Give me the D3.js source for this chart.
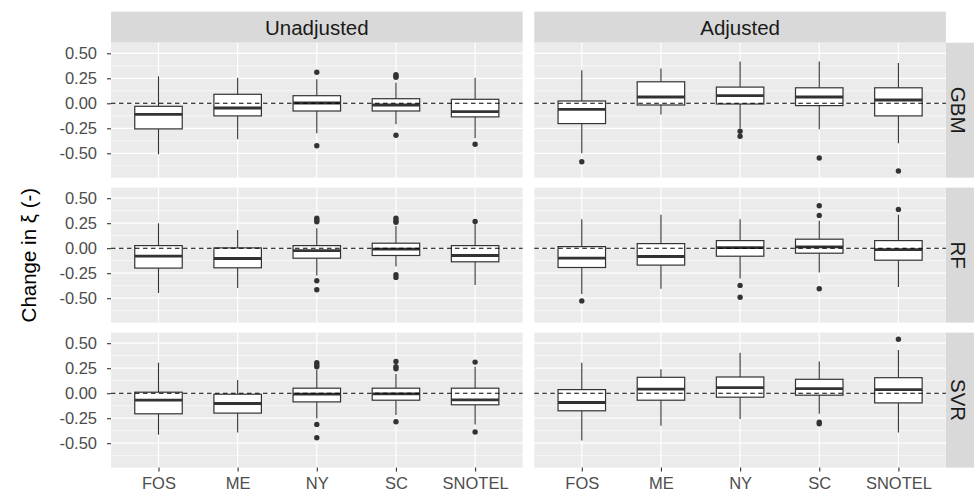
<!DOCTYPE html>
<html>
<head>
<meta charset="utf-8">
<script src="https://cdn.jsdelivr.net/npm/d3@7"></script>
<style>
  html, body { margin: 0; padding: 0; background: #ffffff; }
  svg { display: block; font-family: "Liberation Sans", Arial, Helvetica, sans-serif; }
</style>
</head>
<body>
<svg id="chart" width="974" height="500"></svg>
<script>
// Facet labels and categories
const adjustments = ["Unadjusted", "Adjusted"];
const models = ["GBM", "RF", "SVR"];
const networks = ["FOS", "ME", "NY", "SC", "SNOTEL"];
const yTickValues = [-0.5, -0.25, 0, 0.25, 0.5];
const yTickLabels = ["-0.50", "-0.25", "0.00", "0.25", "0.50"];

// Box summaries per network: [lower whisker, Q1, median, Q3, upper whisker]
const unadjustedGBM = [[-0.51, -0.256, -0.11, -0.03, 0.27], [-0.36, -0.126, -0.047, 0.09, 0.255], [-0.30, -0.077, 0.003, 0.076, 0.24], [-0.21, -0.077, -0.017, 0.046, 0.205], [-0.35, -0.136, -0.083, 0.04, 0.255]];
const adjustedGBM   = [[-0.50, -0.203, -0.06, 0.023, 0.33], [-0.113, -0.017, 0.063, 0.215, 0.348], [-0.25, -0.007, 0.076, 0.162, 0.418], [-0.26, -0.023, 0.063, 0.155, 0.418], [-0.40, -0.126, 0.033, 0.155, 0.404]];
const unadjustedRF  = [[-0.448, -0.199, -0.08, 0.026, 0.249], [-0.398, -0.196, -0.103, 0.003, 0.182], [-0.272, -0.10, -0.024, 0.026, 0.199], [-0.183, -0.073, -0.01, 0.05, 0.222], [-0.368, -0.136, -0.073, 0.026, 0.249]];
const adjustedRF    = [[-0.458, -0.193, -0.10, 0.016, 0.289], [-0.405, -0.169, -0.083, 0.046, 0.334], [-0.302, -0.08, 0.006, 0.076, 0.289], [-0.243, -0.05, 0.013, 0.09, 0.275], [-0.388, -0.12, -0.014, 0.076, 0.334]];
const unadjustedSVR = [[-0.415, -0.206, -0.07, 0.01, 0.305], [-0.392, -0.199, -0.103, -0.01, 0.133], [-0.253, -0.087, -0.01, 0.05, 0.232], [-0.219, -0.07, -0.007, 0.05, 0.192], [-0.312, -0.116, -0.067, 0.05, 0.265]];
const adjustedSVR   = [[-0.474, -0.176, -0.093, 0.036, 0.305], [-0.325, -0.07, 0.04, 0.159, 0.239], [-0.259, -0.04, 0.056, 0.162, 0.404], [-0.206, -0.02, 0.046, 0.139, 0.318], [-0.392, -0.097, 0.036, 0.155, 0.431]];

// Outlying points per network
const unadjustedGBMOut = [[], [], [0.31, -0.425], [0.285, 0.27, 0.26, -0.32], [-0.41]];
const adjustedGBMOut   = [[-0.584], [], [-0.28, -0.33], [-0.547], [-0.677]];
const unadjustedRFOut  = [[], [], [0.30, 0.28, 0.265, -0.325, -0.415], [0.30, 0.275, 0.26, -0.266, -0.292], [0.268]];
const adjustedRFOut    = [[-0.527], [], [-0.372, -0.491], [0.424, 0.328, -0.405], [0.388]];
const unadjustedSVROut = [[], [], [0.305, 0.285, 0.265, -0.312, -0.445], [0.318, 0.265, 0.245, -0.285], [0.311, -0.388]];
const adjustedSVROut   = [[], [], [], [-0.289, -0.305], [0.54]];

const summaries = {
  GBM: [unadjustedGBM, adjustedGBM],
  RF:  [unadjustedRF, adjustedRF],
  SVR: [unadjustedSVR, adjustedSVR]
};
const outliers = {
  GBM: [unadjustedGBMOut, adjustedGBMOut],
  RF:  [unadjustedRFOut, adjustedRFOut],
  SVR: [unadjustedSVROut, adjustedSVROut]
};

// Layout
const panelW = 411.6, panelH = 135;
const colX = [111, 534.3];
const rowY = [42.7, 187.6, 332.6];
const stripTop = 11.6;
const stripRightX = 946, stripRightW = 28;

const svg = d3.select("#chart");

const x = d3.scalePoint().domain(networks).range([0, panelW]).padding(0.6);
const y = d3.scaleLinear().domain([-0.744, 0.606]).range([panelH, 0]);
const boxW = x.step() * 0.6;
const minorTicks = d3.range(-0.625, 0.7, 0.25).filter(v => v > y.domain()[0] && v < y.domain()[1]);

// Column strips
adjustments.forEach((adj, c) => {
  svg.append("rect")
    .attr("x", colX[c]).attr("y", stripTop)
    .attr("width", panelW).attr("height", rowY[0] - stripTop)
    .attr("fill", "#d9d9d9");
  svg.append("text")
    .attr("x", colX[c] + panelW / 2).attr("y", (stripTop + rowY[0]) / 2)
    .attr("text-anchor", "middle").attr("dominant-baseline", "central")
    .attr("font-size", 20.5).attr("fill", "#1a1a1a")
    .text(adj);
});

models.forEach((model, r) => {
  // Row strip
  svg.append("rect")
    .attr("x", stripRightX).attr("y", rowY[r])
    .attr("width", stripRightW).attr("height", panelH)
    .attr("fill", "#d9d9d9");
  svg.append("text")
    .attr("transform", `translate(${stripRightX + 12.5},${rowY[r] + panelH / 2}) rotate(90)`)
    .attr("text-anchor", "middle").attr("dominant-baseline", "central")
    .attr("font-size", 20.5).attr("fill", "#1a1a1a")
    .text(model);

  adjustments.forEach((adj, c) => {
    const g = svg.append("g").attr("transform", `translate(${colX[c]},${rowY[r]})`);
    g.append("rect").attr("width", panelW).attr("height", panelH).attr("fill", "#ebebeb");

    // Grid
    g.selectAll(".minor").data(minorTicks).join("line")
      .attr("x1", 0).attr("x2", panelW)
      .attr("y1", d => y(d)).attr("y2", d => y(d))
      .attr("stroke", "#ffffff").attr("stroke-width", 0.6);
    g.selectAll(".major").data(yTickValues).join("line")
      .attr("x1", 0).attr("x2", panelW)
      .attr("y1", d => y(d)).attr("y2", d => y(d))
      .attr("stroke", "#ffffff").attr("stroke-width", 1.2);
    g.selectAll(".vmajor").data(networks).join("line")
      .attr("x1", d => x(d)).attr("x2", d => x(d))
      .attr("y1", 0).attr("y2", panelH)
      .attr("stroke", "#ffffff").attr("stroke-width", 1.2);

    const stats = summaries[model][c];
    const outs = outliers[model][c];
    const boxes = g.selectAll(".box").data(networks).join("g")
      .attr("transform", d => `translate(${x(d)},0)`);

    // Whiskers
    boxes.append("line")
      .attr("x1", 0).attr("x2", 0)
      .attr("y1", (d, i) => y(stats[i][4])).attr("y2", (d, i) => y(stats[i][3]))
      .attr("stroke", "#333333").attr("stroke-width", 1.1);
    boxes.append("line")
      .attr("x1", 0).attr("x2", 0)
      .attr("y1", (d, i) => y(stats[i][1])).attr("y2", (d, i) => y(stats[i][0]))
      .attr("stroke", "#333333").attr("stroke-width", 1.1);
    // Box
    boxes.append("rect")
      .attr("x", -boxW / 2).attr("width", boxW)
      .attr("y", (d, i) => y(stats[i][3]))
      .attr("height", (d, i) => y(stats[i][1]) - y(stats[i][3]))
      .attr("fill", "#ffffff").attr("stroke", "#333333").attr("stroke-width", 1.2);
    // Median
    boxes.append("line")
      .attr("x1", -boxW / 2).attr("x2", boxW / 2)
      .attr("y1", (d, i) => y(stats[i][2])).attr("y2", (d, i) => y(stats[i][2]))
      .attr("stroke", "#333333").attr("stroke-width", 2.8);
    // Outliers
    boxes.each(function (d, i) {
      d3.select(this).selectAll("circle").data(outs[i]).join("circle")
        .attr("cx", 0).attr("cy", v => y(v)).attr("r", 2.7)
        .attr("fill", "#333333");
    });

    // Zero reference
    g.append("line")
      .attr("x1", 0).attr("x2", panelW)
      .attr("y1", y(0)).attr("y2", y(0))
      .attr("stroke", "#000000").attr("stroke-width", 1.1)
      .attr("stroke-dasharray", "4.5,3.5");

    // Axes
    if (c === 0) {
      const ax = g.append("g").call(
        d3.axisLeft(y).tickValues(yTickValues)
          .tickFormat((d, i) => yTickLabels[i])
          .tickSize(4).tickPadding(10));
      ax.select(".domain").remove();
      ax.selectAll(".tick line").attr("stroke", "#333333").attr("stroke-width", 1.1);
      ax.selectAll(".tick text").attr("fill", "#4d4d4d").attr("font-size", 16.5)
        .attr("font-family", "Liberation Sans, Arial, sans-serif");
    }
    if (r === models.length - 1) {
      const ax = g.append("g").attr("transform", `translate(0,${panelH})`).call(
        d3.axisBottom(x).tickSize(4).tickPadding(6));
      ax.select(".domain").remove();
      ax.selectAll(".tick line").attr("stroke", "#333333").attr("stroke-width", 1.1);
      ax.selectAll(".tick text").attr("fill", "#4d4d4d").attr("font-size", 16.5)
        .attr("font-family", "Liberation Sans, Arial, sans-serif");
    }
  });
});

// Y-axis title
svg.append("text")
  .attr("transform", `translate(36,${(rowY[0] + rowY[2] + panelH) / 2}) rotate(-90)`)
  .attr("text-anchor", "middle")
  .attr("font-size", 20.5).attr("fill", "#000000")
  .text("Change in ξ (-)");
</script>
</body>
</html>
